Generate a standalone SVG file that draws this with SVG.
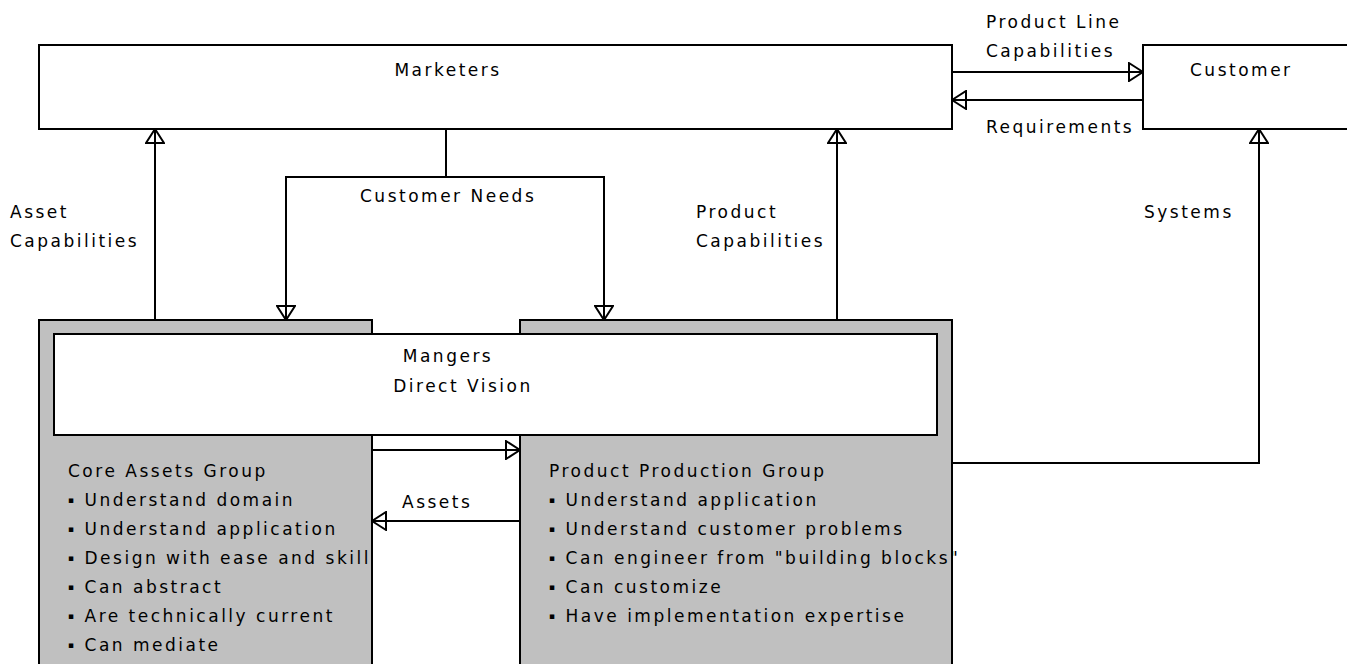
<svg xmlns="http://www.w3.org/2000/svg" width="1347" height="664" viewBox="0 0 1347 664">
  <style>
    .box { fill: #ffffff; stroke: #000000; stroke-width: 2; }
    .group { fill: #c0c0c0; stroke: #000000; stroke-width: 2; }
    .wire { fill: none; stroke: #000000; stroke-width: 2; }
    .lbl { font-family: "DejaVu Sans", "Liberation Sans", sans-serif; font-size: 17px; fill: #000000; letter-spacing: 2.5px; }
    .dot { font-size: 9px; }
  </style>
  <defs>
    <marker id="tri" viewBox="0 0 16 20" refX="15" refY="10" markerWidth="16" markerHeight="20" markerUnits="userSpaceOnUse" orient="auto">
      <path d="M1,1 L15,10 L1,19 Z" fill="none" stroke="#000000" stroke-width="2" stroke-linejoin="miter"/>
    </marker>
  </defs>
  <rect width="1347" height="664" fill="#ffffff"/>

  <!-- Marketers -->
  <g id="marketers">
    <rect class="box" x="39" y="45" width="913" height="84"/>
    <text class="lbl" x="448" y="76" text-anchor="middle">Marketers</text>
  </g>

  <!-- Customer -->
  <g id="customer">
    <rect class="box" x="1143" y="45" width="220" height="84"/>
    <text class="lbl" x="1190" y="76">Customer</text>
  </g>

  <!-- Core assets group -->
  <g id="core-assets">
    <rect class="group" x="39" y="320" width="333" height="360"/>
    <text class="lbl" x="68" y="477">Core Assets Group</text>
    <text class="lbl" x="68" y="506"><tspan class="dot" dy="-3">▪</tspan><tspan dy="3"> Understand domain</tspan></text>
    <text class="lbl" x="68" y="535"><tspan class="dot" dy="-3">▪</tspan><tspan dy="3"> Understand application</tspan></text>
    <text class="lbl" x="68" y="564"><tspan class="dot" dy="-3">▪</tspan><tspan dy="3"> Design with ease and skill</tspan></text>
    <text class="lbl" x="68" y="593"><tspan class="dot" dy="-3">▪</tspan><tspan dy="3"> Can abstract</tspan></text>
    <text class="lbl" x="68" y="622"><tspan class="dot" dy="-3">▪</tspan><tspan dy="3"> Are technically current</tspan></text>
    <text class="lbl" x="68" y="651"><tspan class="dot" dy="-3">▪</tspan><tspan dy="3"> Can mediate</tspan></text>
  </g>

  <!-- Product production group -->
  <g id="product-production">
    <rect class="group" x="520" y="320" width="432" height="360"/>
    <text class="lbl" x="549" y="477">Product Production Group</text>
    <text class="lbl" x="549" y="506"><tspan class="dot" dy="-3">▪</tspan><tspan dy="3"> Understand application</tspan></text>
    <text class="lbl" x="549" y="535"><tspan class="dot" dy="-3">▪</tspan><tspan dy="3"> Understand customer problems</tspan></text>
    <text class="lbl" x="549" y="564"><tspan class="dot" dy="-3">▪</tspan><tspan dy="3"> Can engineer from "building blocks"</tspan></text>
    <text class="lbl" x="549" y="593"><tspan class="dot" dy="-3">▪</tspan><tspan dy="3"> Can customize</tspan></text>
    <text class="lbl" x="549" y="622"><tspan class="dot" dy="-3">▪</tspan><tspan dy="3"> Have implementation expertise</tspan></text>
  </g>

  <!-- Managers -->
  <g id="managers">
    <rect class="box" x="54" y="334" width="883" height="101"/>
    <text class="lbl" x="448" y="362" text-anchor="middle">Mangers</text>
    <text class="lbl" x="463" y="392" text-anchor="middle">Direct Vision</text>
  </g>

  <!-- Connectors -->
  <g id="connectors">
    <line class="wire" x1="952" y1="72" x2="1143" y2="72" marker-end="url(#tri)"/>
    <line class="wire" x1="1143" y1="100" x2="952" y2="100" marker-end="url(#tri)"/>
    <line class="wire" x1="155" y1="320" x2="155" y2="129" marker-end="url(#tri)"/>
    <line class="wire" x1="837" y1="320" x2="837" y2="129" marker-end="url(#tri)"/>
    <polyline class="wire" points="952,463 1259,463 1259,129" marker-end="url(#tri)"/>
    <line class="wire" x1="446" y1="129" x2="446" y2="177"/>
    <polyline class="wire" points="446,177 286,177 286,320" marker-end="url(#tri)"/>
    <polyline class="wire" points="446,177 604,177 604,320" marker-end="url(#tri)"/>
    <line class="wire" x1="372" y1="450" x2="520" y2="450" marker-end="url(#tri)"/>
    <line class="wire" x1="520" y1="521" x2="372" y2="521" marker-end="url(#tri)"/>

    <text class="lbl" x="986" y="28">Product Line</text>
    <text class="lbl" x="986" y="57">Capabilities</text>
    <text class="lbl" x="986" y="133">Requirements</text>
    <text class="lbl" x="10" y="218">Asset</text>
    <text class="lbl" x="10" y="247">Capabilities</text>
    <text class="lbl" x="360" y="202">Customer Needs</text>
    <text class="lbl" x="696" y="218">Product</text>
    <text class="lbl" x="696" y="247">Capabilities</text>
    <text class="lbl" x="1144" y="218">Systems</text>
    <text class="lbl" x="402" y="508">Assets</text>
  </g>
</svg>
